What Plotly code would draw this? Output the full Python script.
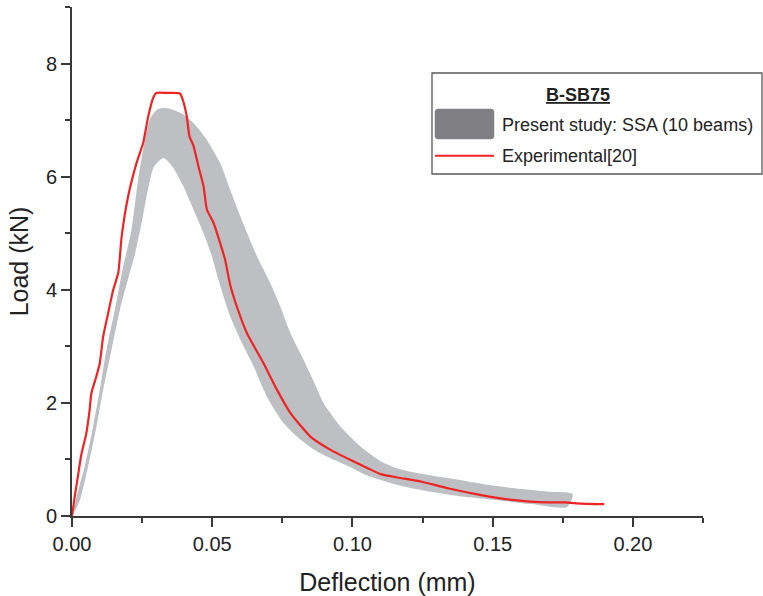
import plotly.graph_objects as go

# Experimental curve (red)
exp_x = [0, 0.0010, 0.0021, 0.0033, 0.0051, 0.0063, 0.0069, 0.0087, 0.0099, 0.0111, 0.0129,
         0.0147, 0.0165, 0.0177, 0.0200, 0.0230, 0.0254, 0.0272, 0.0290, 0.0300, 0.0340, 0.0385,
         0.0395, 0.0409, 0.0419, 0.0433, 0.0451, 0.0469, 0.0481, 0.0505, 0.0528, 0.0546, 0.0564,
         0.0588, 0.0624, 0.0683, 0.0731, 0.0779, 0.0851, 0.0922, 0.0994, 0.1053, 0.1101, 0.1161,
         0.1244, 0.1340, 0.1459, 0.1578, 0.1697, 0.1757, 0.1816, 0.1898]
exp_y = [0, 0.35, 0.70, 1.08, 1.46, 1.88, 2.17, 2.47, 2.70, 3.17, 3.59,
         4.00, 4.30, 4.94, 5.65, 6.24, 6.60, 7.07, 7.40, 7.48, 7.48, 7.47,
         7.36, 7.07, 6.71, 6.55, 6.18, 5.83, 5.42, 5.18, 4.83, 4.53, 4.09,
         3.70, 3.23, 2.70, 2.23, 1.82, 1.40, 1.17, 0.99, 0.85, 0.74, 0.68,
         0.61, 0.49, 0.37, 0.28, 0.24, 0.24, 0.22, 0.21]

# SSA band (10 beams): upper and lower envelopes
upper_x = [0, 0.0016, 0.0045, 0.0075, 0.0099, 0.0123, 0.0153, 0.0180, 0.0212, 0.0236, 0.0260,
           0.0278, 0.0305, 0.0330, 0.0355, 0.0397, 0.0433, 0.0481, 0.0528, 0.0564, 0.0600,
           0.0660, 0.0707, 0.0743, 0.0779, 0.0826, 0.0860, 0.0898, 0.0958, 0.1029, 0.1101,
           0.1161, 0.1220, 0.1340, 0.1459, 0.1578, 0.1697, 0.1785]
upper_y = [0, 0.34, 0.87, 1.58, 2.23, 2.94, 3.65, 4.35, 5.06, 5.95, 6.65,
           7.02, 7.19, 7.22, 7.19, 7.10, 6.95, 6.65, 6.24, 5.77, 5.30,
           4.59, 4.12, 3.70, 3.23, 2.76, 2.40, 1.99, 1.58, 1.23, 0.97,
           0.84, 0.77, 0.67, 0.57, 0.49, 0.43, 0.39]
lower_x = [0, 0.0028, 0.0057, 0.0087, 0.0111, 0.0141, 0.0171, 0.0206, 0.0224, 0.0248, 0.0272,
           0.0292, 0.0326, 0.0358, 0.0397, 0.0433, 0.0469, 0.0499, 0.0522, 0.0564, 0.0600,
           0.0648, 0.0695, 0.0755, 0.0815, 0.0874, 0.0922, 0.0994, 0.1041, 0.1161, 0.1280,
           0.1399, 0.1518, 0.1638, 0.1765]
lower_y = [0, 0.28, 0.87, 1.58, 2.23, 2.94, 3.65, 4.30, 4.62, 5.18, 5.80,
           6.17, 6.33, 6.18, 5.83, 5.42, 5.00, 4.59, 4.18, 3.53, 3.12,
           2.64, 2.11, 1.64, 1.35, 1.14, 1.02, 0.86, 0.74, 0.55, 0.43,
           0.34, 0.28, 0.21, 0.16]

x_ticks = [0.00, 0.05, 0.10, 0.15, 0.20]
x_tick_labels = ["0.00", "0.05", "0.10", "0.15", "0.20"]
y_ticks = [0, 2, 4, 6, 8]
y_tick_labels = ["0", "2", "4", "6", "8"]

FONT = "Liberation Sans, Arial, sans-serif"
TXT = "#222222"
AX = "#3a3a3a"
BAND = "rgb(190,191,195)"
RED = "#ee2424"

fig = go.Figure()
fig.add_trace(go.Scatter(
    x=upper_x + lower_x[::-1], y=upper_y + lower_y[::-1],
    fill="toself", fillcolor=BAND, line=dict(width=0, shape="spline", smoothing=0.7), mode="lines",
    name="Present study: SSA (10 beams)", hoverinfo="skip", showlegend=False))
fig.add_trace(go.Scatter(
    x=exp_x, y=exp_y, mode="lines", line=dict(color=RED, width=2.2, shape="spline", smoothing=0.5),
    name="Experimental[20]", showlegend=False))

axis_common = dict(
    showline=True, linecolor=AX, linewidth=1.6, showgrid=False, zeroline=False,
    ticks="outside", ticklen=9, tickwidth=1.6, tickcolor=AX,
    tickfont=dict(family=FONT, size=20, color=TXT),
    mirror=False,
)
fig.update_xaxes(range=[0, 0.225], tickvals=x_ticks, ticktext=x_tick_labels,
                 minor=dict(ticks="outside", ticklen=5, tickwidth=1.6, tickcolor=AX, dtick=0.025, tick0=0),
                 title=dict(text="Deflection (mm)", font=dict(family=FONT, size=25, color=TXT), standoff=20),
                 **axis_common)
fig.update_yaxes(range=[0, 9], tickvals=y_ticks, ticktext=y_tick_labels,
                 minor=dict(ticks="outside", ticklen=5, tickwidth=1.6, tickcolor=AX, dtick=1, tick0=0),
                 title=dict(text="Load (kN)", font=dict(family=FONT, size=25, color=TXT), standoff=10),
                 **axis_common)

# Manual legend (pixel -> paper conversion helpers)
L, R, T, B = 72, 703, 7, 516
def px(xp):
    return (xp - L) / (R - L)
def py(yp):
    return (B - yp) / (B - T)

def rounded_rect(x0, y0, x1, y1, r):
    return (f"M {px(x0 + r)} {py(y0)} L {px(x1 - r)} {py(y0)} "
            f"Q {px(x1)} {py(y0)} {px(x1)} {py(y0 + r)} L {px(x1)} {py(y1 - r)} "
            f"Q {px(x1)} {py(y1)} {px(x1 - r)} {py(y1)} L {px(x0 + r)} {py(y1)} "
            f"Q {px(x0)} {py(y1)} {px(x0)} {py(y1 - r)} L {px(x0)} {py(y0 + r)} "
            f"Q {px(x0)} {py(y0)} {px(x0 + r)} {py(y0)} Z")

shapes = [
    dict(type="rect", xref="paper", yref="paper", x0=px(432), x1=px(762), y0=py(174), y1=py(73),
         line=dict(color="#5a5a5a", width=1.3), fillcolor="white", layer="above"),
    dict(type="path", xref="paper", yref="paper", path=rounded_rect(435, 109, 494, 139, 3),
         line=dict(color="rgb(128,128,132)", width=0.5), fillcolor="rgb(128,128,132)", layer="above"),
    dict(type="line", xref="paper", yref="paper", x0=px(435), x1=px(494), y0=py(155.7), y1=py(155.7),
         line=dict(color=RED, width=2), layer="above"),
]
annotations = [
    dict(text="<b><u>B-SB75</u></b>", xref="paper", yref="paper", x=px(578), y=py(95),
         xanchor="center", yanchor="middle", showarrow=False, font=dict(family=FONT, size=18, color=TXT)),
    dict(text="Present study: SSA (10 beams)", xref="paper", yref="paper", x=px(500), y=py(125),
         xanchor="left", yanchor="middle", showarrow=False, font=dict(family=FONT, size=18, color=TXT)),
    dict(text="Experimental[20]", xref="paper", yref="paper", x=px(500), y=py(155.7),
         xanchor="left", yanchor="middle", showarrow=False, font=dict(family=FONT, size=18, color=TXT)),
]

fig.update_layout(
    width=763, height=596,
    margin=dict(l=L, r=763 - R, t=T, b=596 - B, autoexpand=False),
    paper_bgcolor="white", plot_bgcolor="white",
    shapes=shapes, annotations=annotations, showlegend=False,
)
fig.write_html("out.html")
